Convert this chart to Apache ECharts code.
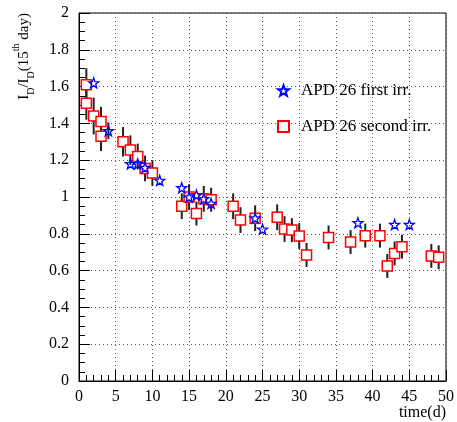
<!DOCTYPE html>
<html><head><meta charset="utf-8">
<script src="https://cdn.jsdelivr.net/npm/echarts@6/dist/echarts.min.js"></script>
<style>html,body{margin:0;padding:0;background:#fff}#c{width:457px;height:422px}</style>
</head><body><div id="c"></div>
<script>
// APD 26 first irradiation (stars)
const firstX = [2, 4, 7, 8, 9, 11, 14, 15, 16, 17, 18, 24, 25, 38, 43, 45];
const firstY = [1.62, 1.36, 1.18, 1.18, 1.16, 1.09, 1.05, 1.00, 1.01, 0.99, 0.965, 0.885, 0.825, 0.86, 0.85, 0.85];
const firstE = [0, 0.045, 0, 0, 0, 0, 0, 0, 0, 0, 0, 0, 0, 0, 0, 0];
// APD 26 second irradiation (squares)
const secondX = [1, 1, 2, 3, 3, 6, 7, 8, 9, 10, 14, 15, 16, 17, 18, 21, 22, 24, 27, 28, 29, 30, 31, 34, 37, 39, 41, 42, 43, 44, 48, 49];
const secondY = [1.61, 1.51, 1.44, 1.41, 1.33, 1.30, 1.255, 1.22, 1.155, 1.13, 0.95, 1.00, 0.91, 0.99, 0.985, 0.95, 0.875, 0.885, 0.89, 0.826, 0.82, 0.788, 0.685, 0.78, 0.755, 0.79, 0.79, 0.625, 0.693, 0.73, 0.68, 0.672];
const secondE = [0.09, 0.09, 0.1, 0.08, 0.08, 0.08, 0.08, 0.07, 0.07, 0.07, 0.07, 0.07, 0.065, 0.07, 0.065, 0.07, 0.07, 0.07, 0.07, 0.07, 0.065, 0.07, 0.065, 0.065, 0.065, 0.065, 0.065, 0.065, 0.065, 0.065, 0.065, 0.065];
const xTicks = [0, 5, 10, 15, 20, 25, 30, 35, 40, 45, 50];
const yTicks = [0, 0.2, 0.4, 0.6, 0.8, 1, 1.2, 1.4, 1.6, 1.8, 2];
const nameFirst = 'APD 26 first irr.';
const nameSecond = 'APD 26 second irr.';

const SERIF = '"Liberation Serif","DejaVu Serif",serif';
const STAR = 'path://M0,-10 L2.35,-3.24 L9.51,-3.09 L3.8,1.24 L5.88,8.09 L0,4 L-5.88,8.09 L-3.8,1.24 L-9.51,-3.09 L-2.35,-3.24 Z';

const firstPts = firstX.map((x, i) => [x, firstY[i]]);
const secondPts = secondX.map((x, i) => [x, secondY[i]]);
const errPts = secondX.map((x, i) => [x, secondY[i], secondE[i]])
  .concat(firstX.map((x, i) => [x, firstY[i], firstE[i]]).filter(d => d[2] > 0));

function errBar(params, api) {
  const x = api.value(0), y = api.value(1), e = api.value(2);
  const p1 = api.coord([x, y + e]), p2 = api.coord([x, y - e]);
  return {type: 'line', shape: {x1: p1[0], y1: p1[1], x2: p2[0], y2: p2[1]},
    style: {stroke: '#222', lineWidth: 2}};
}

const chart = echarts.init(document.getElementById('c'), null, {renderer: 'canvas'});
chart.setOption({
  animation: false,
  backgroundColor: '#fff',
  grid: {left: 79, right: 11, top: 13, bottom: 41, show: true, borderColor: '#000', borderWidth: 1, backgroundColor: 'transparent'},
  xAxis: {
    type: 'value', min: xTicks[0], max: xTicks[xTicks.length - 1], interval: 5,
    axisLine: {lineStyle: {color: '#000', width: 1}},
    axisTick: {inside: true, length: 11, lineStyle: {color: '#000'}},
    minorTick: {show: true, splitNumber: 5, length: 6, lineStyle: {color: '#000'}},
    splitLine: {show: true, lineStyle: {color: '#555', type: [1, 3], width: 1}},
    axisLabel: {fontFamily: SERIF, fontSize: 16, color: '#000', margin: 8}
  },
  yAxis: {
    type: 'value', min: yTicks[0], max: yTicks[yTicks.length - 1], interval: 0.2,
    axisLine: {show: true, lineStyle: {color: '#000', width: 1}},
    axisTick: {show: true, inside: true, length: 11, lineStyle: {color: '#000'}},
    minorTick: {show: true, splitNumber: 4, length: 6, lineStyle: {color: '#000'}},
    splitLine: {show: true, lineStyle: {color: '#555', type: [1, 3], width: 1}},
    axisLabel: {fontFamily: SERIF, fontSize: 16, color: '#000', margin: 10,
      formatter: v => String(+v.toFixed(1))}
  },
  legend: {
    orient: 'vertical', left: 272, top: 77, itemGap: 19, itemWidth: 11, itemHeight: 11,
    textStyle: {fontFamily: SERIF, fontSize: 17, color: '#000', padding: [0, 0, 0, 7]},
    data: [nameFirst, nameSecond]
  },
  series: [
    {type: 'custom', name: 'err', renderItem: errBar, data: errPts, z: 1, silent: true},
    {type: 'scatter', name: nameSecond, data: secondPts, symbol: 'rect', symbolSize: 10, z: 2,
      itemStyle: {color: '#fff', borderColor: '#ff0000', borderWidth: 1.5, opacity: 1}},
    {type: 'scatter', name: nameFirst, data: firstPts, symbol: STAR, symbolSize: 10, z: 3,
      itemStyle: {color: 'rgba(255,255,255,0)', borderColor: '#0000ff', borderWidth: 1.3, opacity: 1}}
  ],
  graphic: [
    {type: 'text', x: 24, y: 13, rotation: Math.PI / 2,
      style: {
        text: '{a|I}{s|D}{a|/I}{s|D}{a|(15}{p|th}{a| day)}',
        align: 'right', verticalAlign: 'middle', fill: '#000',
        rich: {
          a: {fontFamily: SERIF, fontSize: 15, lineHeight: 17, verticalAlign: 'middle'},
          s: {fontFamily: SERIF, fontSize: 10, lineHeight: 10, verticalAlign: 'bottom', padding: [0, 0, -4, 0]},
          p: {fontFamily: SERIF, fontSize: 10, lineHeight: 10, verticalAlign: 'top', padding: [-4, 0, 0, 0]}
        }
      }},
    {type: 'text', right: 11, top: 405,
      style: {text: 'time(d)', fontFamily: SERIF, fontSize: 16, fill: '#000'}}
  ]
});
</script></body></html>
